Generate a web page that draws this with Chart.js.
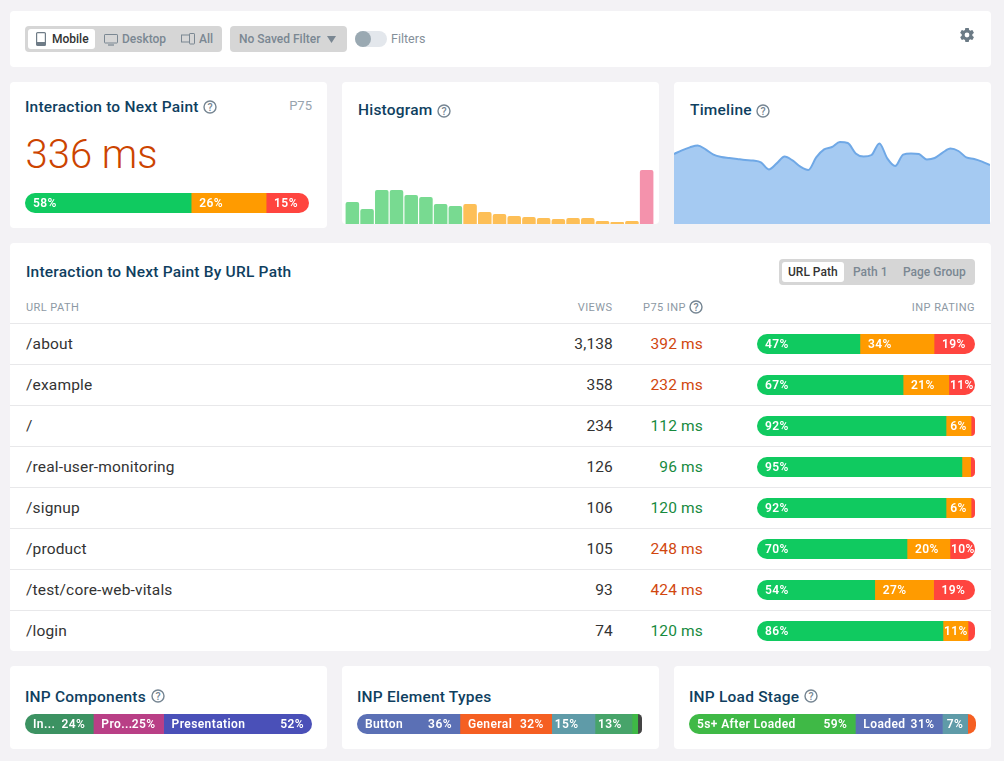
<!DOCTYPE html>
<html>
<head>
<meta charset="utf-8">
<title>Interaction to Next Paint</title>
<script src="https://cdn.jsdelivr.net/npm/chart.js@4"></script>
<style>
html, body { margin: 0; padding: 0; }
body { width: 1004px; height: 761px; background: #f3f2f5; overflow: hidden; position: relative;
       font-family: Roboto, sans-serif; color: #333; }
.card { position: absolute; background: #fff; border-radius: 4px; }
.t { position: absolute; line-height: 20px; height: 20px; white-space: nowrap; }
.title { color: #0f3f5f; font-size: 15.5px; font-weight: 500; letter-spacing: 0.22px; }
.seg { position: absolute; background: #d6d6d6; border-radius: 4px; }
.on { position: absolute; background: #fff; border-radius: 3px; }
.btn { font-size: 12px; font-weight: 500; color: #7a8792; }
.btn.dark { color: #333; }
.head { font-size: 11px; color: #8d99a4; letter-spacing: 0.45px; }
.cell { font-size: 15.5px; letter-spacing: 0.16px; }
.rule { position: absolute; left: 10px; width: 981px; height: 1px; background: #e8e8ea; }
canvas { position: absolute; display: block; }
svg { position: absolute; }
</style>
</head>
<body>
<script>
// histogram: 25 ms bins, bar height
const histBins = ['0','25','50','75','100','125','150','175','200','225','250','275','300','325','350','375','400','425','450','475','500+'];
const histValues = [22,15,34,34,29,27,20,18,20,12,10,8,7,6,5,6,6,3,2,3,54];

// timeline: p75 in ms
const timeLabels = ['1','2','3','4','5','6','7','8','9','10','11','12','13','14','15','16','17','18','19','20','21','22','23','24','25','26','27','28','29','30','31','32','33','34','35','36','37','38','39','40','41'];
const timeValues = [350,368,383,393,373,347,335,330,325,320,317,308,273,303,337,318,287,270,333,373,385,410,405,353,337,345,403,328,290,347,353,350,323,330,357,377,365,333,325,312,295];

// headline bar
const overallBar = [58.5,26.4,15.1];
const overallLabels = ['58%','26%','15%'];

// table
const urlPaths = ['/about','/example','/','/real-user-monitoring','/signup','/product','/test/core-web-vitals','/login'];
const urlViews = ['3,138','358','234','126','106','105','93','74'];
const urlP75 = [392,232,112,96,120,248,424,120];
const ratingGood = [47.2,67,86.7,94,86.7,68.8,54,85.3];
const ratingNeeds = [34,21,11.5,4,11.5,19.7,27,11.5];
const ratingPoor = [18.8,12,1.8,2,1.8,11.5,19,3.2];
const ratingLabels = [
  ['47%','34%','19%'],['67%','21%','11%'],['92%','6%',''],['95%','',''],
  ['92%','6%',''],['70%','20%','10%'],['54%','27%','19%'],['86%','11%','']
];

// bottom cards
const componentNames = ['In...','Pro...','Presentation'];
const componentValues = [23.8,24.5,51.7];
const componentLabels = ['24%','25%','52%'];
const elementNames = ['Button','General','','','',''];
const elementValues = [36.1,32.2,15.2,13,2,1.5];
const elementLabels = ['36%','32%','15%','13%','',''];
const stageNames = ['5s+ After Loaded','Loaded','',''];
const stageValues = [57.9,30.3,8.8,2.9];
const stageLabels = ['59%','31%','7%',''];

const GREEN = '#10ca60', ORANGE = '#ff9b00', RED = '#ff453f';
const BLUE = '#5b70b5', VIOLET = '#4a50b8', PLUM = '#b93f86', SEA = '#3c9262';
const FLAME = '#f55f22', TEAL = '#5f9ba8', LEAF = '#47a46a', LIME = '#3fb946', INK = '#444444';

Chart.defaults.animation = false;
Chart.defaults.responsive = false;
Chart.defaults.font.family = 'Roboto';
Chart.defaults.devicePixelRatio = 1;

function card(x, y, w, h) {
  const d = document.createElement('div');
  d.className = 'card';
  d.style.cssText = `left:${x}px;top:${y}px;width:${w}px;height:${h}px`;
  document.body.appendChild(d);
}

// cy = vertical middle of the text; right = true anchors x on the right side
function text(x, cy, str, cls, color, right) {
  const d = document.createElement('div');
  d.className = 't ' + (cls || '');
  d.textContent = str;
  d.style.top = (cy - 10) + 'px';
  if (right) d.style.right = (1004 - x) + 'px'; else d.style.left = x + 'px';
  if (color) d.style.color = color;
  document.body.appendChild(d);
  return d;
}

function box(cls, x, y, w, h) {
  const d = document.createElement('div');
  d.className = cls;
  d.style.cssText = `left:${x}px;top:${y}px;width:${w}px;height:${h}px`;
  document.body.appendChild(d);
}

function icon(x, y, w, h, inner) {
  const ns = 'http://www.w3.org/2000/svg';
  const s = document.createElementNS(ns, 'svg');
  s.setAttribute('width', w);
  s.setAttribute('height', h);
  s.setAttribute('viewBox', `0 0 ${w} ${h}`);
  s.style.left = x + 'px';
  s.style.top = y + 'px';
  s.innerHTML = inner;
  document.body.appendChild(s);
}

function help(cx, cy) {
  icon(cx - 7, cy - 7, 14, 14,
    '<circle cx="7" cy="7" r="6" fill="none" stroke="#758592" stroke-width="1.4"/>' +
    '<text x="7" y="10.7" text-anchor="middle" font-family="Roboto" font-size="10.5" font-weight="500" fill="#758592">?</text>');
}

// labels and rounded ends for the stacked rating bars
const pillPlugin = {
  id: 'pill',
  beforeDatasetsDraw(chart) {
    const a = chart.chartArea, c = chart.ctx;
    const r = (a.bottom - a.top) / 2;
    const lastBar = chart.getDatasetMeta(chart.data.datasets.length - 1).data[0];
    const endR = Math.min(r, lastBar.x - lastBar.base);
    c.save();
    c.beginPath();
    c.roundRect(a.left, a.top, a.right - a.left, a.bottom - a.top, [r, endR, endR, r]);
    c.clip();
  },
  afterDatasetsDraw(chart, args, opts) {
    const c = chart.ctx;
    c.fillStyle = '#fff';
    c.font = '600 12px Roboto';
    c.letterSpacing = '0.4px';
    c.textBaseline = 'middle';
    const mid = (chart.chartArea.top + chart.chartArea.bottom) / 2 + 0.5;
    chart.data.datasets.forEach((ds, i) => {
      const bar = chart.getDatasetMeta(i).data[0];
      const left = bar.base, right = bar.x, w = right - left;
      const name = opts.names ? opts.names[i] : '';
      const label = opts.labels[i];
      c.textAlign = 'left';
      if (name) {
        c.fillText(name, left + 8, mid);
        c.textAlign = 'right';
        c.fillText(label, right - 8, mid);
      } else if (label) {
        const tw = c.measureText(label).width;
        c.fillText(label, left + (w <= 30 ? Math.max((w - tw) / 2, 1) : opts.pad), mid);
      }
    });
    c.restore();
  }
};

function stackBar(x, y, w, values, labels, colors, names, pad) {
  const cv = document.createElement('canvas');
  cv.width = w;
  cv.height = 20;
  cv.style.left = x + 'px';
  cv.style.top = y + 'px';
  document.body.appendChild(cv);
  new Chart(cv, {
    type: 'bar',
    data: {
      labels: [''],
      datasets: values.map((v, i) => ({
        data: [v], backgroundColor: colors[i], borderWidth: 0,
        barPercentage: 1, categoryPercentage: 1
      }))
    },
    options: {
      indexAxis: 'y',
      layout: { padding: 0 },
      plugins: { legend: { display: false }, tooltip: { enabled: false },
                 pill: { labels: labels, names: names, pad: pad } },
      scales: {
        x: { display: false, stacked: true, min: 0, max: values.reduce((a, b) => a + b, 0) },
        y: { display: false, stacked: true }
      }
    },
    plugins: [pillPlugin]
  });
}

// ---- cards ----
card(10, 11, 981, 56);
card(10, 82, 317, 146);
card(342, 82, 317, 142);
card(674, 82, 317, 142);
card(10, 243, 981, 408);
card(10, 666, 317, 83);
card(342, 666, 317, 83);
card(674, 666, 317, 83);

// ---- toolbar ----
box('seg', 25, 26, 197, 26);
box('on', 28, 29, 67, 20);
icon(36, 32, 10, 14, '<rect x="0.6" y="0.6" width="8.8" height="12.8" rx="1" fill="none" stroke="#6f7c87" stroke-width="1.2"/><rect x="0.6" y="10" width="8.8" height="3.4" fill="#6f7c87"/>');
text(52, 39, 'Mobile', 'btn dark');
icon(104, 34, 14, 12, '<rect x="0.5" y="0.5" width="13" height="8.5" rx="0.6" fill="none" stroke="#7a8792"/><path d="M4 11h6" stroke="#7a8792" stroke-width="1.2"/>');
text(122, 39, 'Desktop', 'btn');
icon(181, 33, 14, 12, '<rect x="0.5" y="2" width="8" height="7" fill="none" stroke="#7a8792"/><rect x="8.5" y="0.5" width="5" height="10.5" rx="0.6" fill="#d6d6d6" stroke="#7a8792"/>');
text(199, 39, 'All', 'btn');
box('seg', 230, 26, 117, 26);
text(239, 39, 'No Saved Filter', 'btn');
icon(327, 36, 9, 7, '<path d="M0 0h9L4.500 7z" fill="#7a8792"/>');
icon(355, 31, 32, 16, '<rect x="0" y="0" width="32" height="16" rx="8" fill="#e3e7ec"/><circle cx="8" cy="8" r="8" fill="#9aa9b2"/>');
text(391, 39, 'Filters', '', '#848f99').style.fontSize = '12.5px';
icon(960, 28, 14, 14, '<path fill="#6b7a85" d="M12.3 7.7c0-.2.1-.5.1-.7s0-.5-.1-.7l1.5-1.2c.1-.1.2-.3.1-.4l-1.4-2.5c-.1-.1-.3-.2-.4-.1l-1.8.7c-.4-.3-.8-.5-1.2-.7L8.800.1C8.800 0 8.600 0 8.400 0H5.600c-.2 0-.3.100-.4.300L5 2.100c-.4.200-.8.400-1.200.7L2 2.100c-.2-.1-.3 0-.4.100L.2 4.700c-.1.100 0 .3.100.4l1.500 1.200c-.1.200-.1.500-.1.700s0 .5.100.7L.3 8.900c-.1.100-.2.300-.1.400l1.400 2.500c.1.100.3.200.4.100l1.800-.7c.4.300.8.500 1.200.7l.3 1.900c0 .100.200.300.300.300h2.800c.2 0 .3-.1.400-.3l.3-1.900c.4-.2.800-.4 1.200-.7l1.800.7c.2.100.3 0 .4-.1l1.400-2.500c.1-.1 0-.3-.1-.4zM7 9.400A2.400 2.400 0 1 1 7 4.600a2.400 2.400 0 0 1 0 4.800z"/>');

// ---- headline card ----
text(25, 107, 'Interaction to Next Paint', 'title');
help(210, 107);
text(312, 106, 'P75', '', '#98a4ae', true).style.fontSize = '13px';
const big = text(25.5, 155, '336 ms', '', '#cc4400');
big.style.fontSize = '40px';
big.style.fontWeight = '300';
stackBar(25, 193, 284, overallBar, overallLabels, [GREEN, ORANGE, RED], null, 8);

// ---- histogram ----
text(358, 110, 'Histogram', 'title');
help(444, 111);
const histCanvas = document.createElement('canvas');
histCanvas.width = 309;
histCanvas.height = 64;
histCanvas.style.left = '345px';
histCanvas.style.top = '160px';
document.body.appendChild(histCanvas);
new Chart(histCanvas, {
  type: 'bar',
  data: {
    labels: histBins,
    datasets: [{
      data: histValues,
      backgroundColor: ctx => {
        const ms = parseInt(histBins[ctx.dataIndex]);
        return ms < 200 ? '#78da91' : ms < 500 ? '#fdbf57' : '#f492ac';
      },
      borderRadius: { topLeft: 2, topRight: 2 },
      borderSkipped: 'bottom',
      barPercentage: 0.92,
      categoryPercentage: 1
    }]
  },
  options: {
    plugins: { legend: { display: false }, tooltip: { enabled: false } },
    scales: {
      x: { display: false },
      y: { display: false, min: 0, max: 64 }
    }
  }
});

// ---- timeline ----
text(690, 110, 'Timeline', 'title');
help(763, 111);
const timeCanvas = document.createElement('canvas');
timeCanvas.width = 316;
timeCanvas.height = 94;
timeCanvas.style.left = '674px';
timeCanvas.style.top = '130px';
document.body.appendChild(timeCanvas);
new Chart(timeCanvas, {
  type: 'line',
  data: {
    labels: timeLabels,
    datasets: [{
      data: timeValues,
      borderColor: '#6fa8e6',
      borderWidth: 2,
      backgroundColor: '#a5caf2',
      fill: true,
      pointRadius: 0,
      cubicInterpolationMode: 'monotone'
    }]
  },
  options: {
    plugins: { legend: { display: false }, tooltip: { enabled: false } },
    scales: {
      x: { display: false, offset: false },
      y: { display: false, min: 0, max: 470 }
    }
  }
});

// ---- table ----
text(26, 271.5, 'Interaction to Next Paint By URL Path', 'title');
box('seg', 779, 259, 196, 26);
box('on', 782, 262, 62, 20);
text(788, 272, 'URL Path', 'btn dark');
text(853, 272, 'Path 1', 'btn');
text(903, 272, 'Page Group', 'btn');
text(26, 307.5, 'URL PATH', 'head');
text(612.5, 307.5, 'VIEWS', 'head', null, true);
text(643, 307.5, 'P75 INP', 'head');
help(696, 307);
text(975, 307.5, 'INP RATING', 'head', null, true);

urlPaths.forEach((path, i) => {
  const cy = 344 + i * 41;
  box('rule', 10, 323 + i * 41, 981, 1);
  text(26, cy, path, 'cell');
  text(613, cy, urlViews[i], 'cell', null, true);
  text(703, cy, urlP75[i] + ' ms', 'cell', urlP75[i] > 200 ? '#d1460e' : '#178a3e', true);
  stackBar(757, cy - 10, 218, [ratingGood[i], ratingNeeds[i], ratingPoor[i]], ratingLabels[i], [GREEN, ORANGE, RED], null, 8);
});

// ---- bottom cards ----
text(25, 696.5, 'INP Components', 'title');
help(158, 696);
stackBar(25, 714, 287, componentValues, componentLabels, [SEA, PLUM, VIOLET], componentNames, 3);
text(357, 696.5, 'INP Element Types', 'title');
stackBar(357, 714, 285, elementValues, elementLabels, [BLUE, FLAME, TEAL, LEAF, LIME, INK], elementNames, 3);
text(689, 696.5, 'INP Load Stage', 'title');
help(811, 696);
stackBar(689, 714, 287, stageValues, stageLabels, [LIME, BLUE, TEAL, FLAME], stageNames, 3);
</script>
</body>
</html>
